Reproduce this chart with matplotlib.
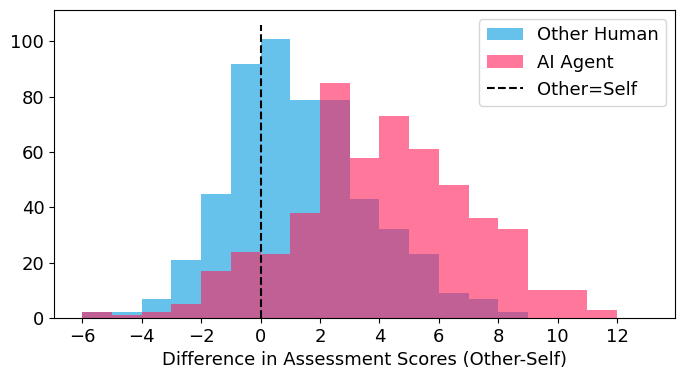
import numpy as np
import matplotlib.pyplot as plt

# Histogrammwerte (Anzahl pro Klasse, Klassenbreite 1)
bin_edges = np.arange(-6, 14, 1)
human_counts = [2, 2, 7, 21, 45, 92, 101, 79, 79, 43, 32, 23, 9, 7, 2, 0, 0, 0, 0]
ai_counts = [2, 1, 2, 5, 17, 24, 23, 38, 85, 58, 73, 61, 48, 36, 32, 10, 10, 3, 0]

centers = bin_edges[:-1] + 0.5

plt.rcParams["font.size"] = 13

fig, ax = plt.subplots(figsize=(6.84, 3.79))
fig.subplots_adjust(left=0.079, right=0.987, top=0.973, bottom=0.161)

ax.hist(centers, bins=bin_edges, weights=human_counts, color="#009ADE",
        alpha=0.6, label="Other Human")
ax.hist(centers, bins=bin_edges, weights=ai_counts, color="#FF1F5B",
        alpha=0.6, label="AI Agent")
ax.vlines(0, 0, 106, colors="black", linestyles="--", linewidth=1.5,
          label="Other=Self")

ax.set_xticks(np.arange(-6, 13, 2))
ax.set_xlabel("Difference in Assessment Scores (Other-Self)")
ax.legend(loc="upper right")

fig.savefig("out.png", dpi=100)
